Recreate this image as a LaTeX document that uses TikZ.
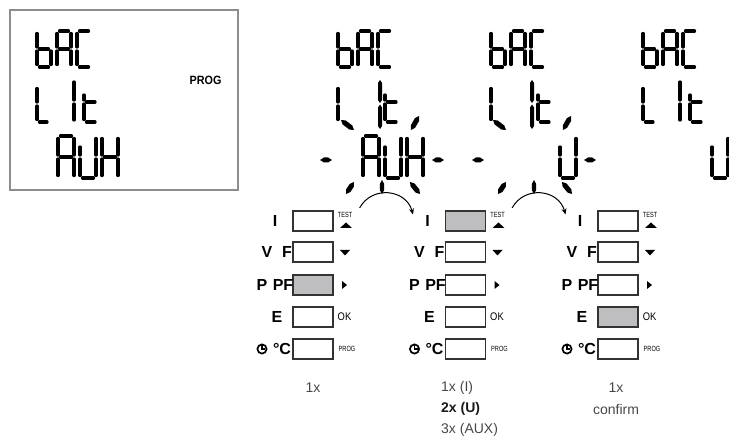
\documentclass[tikz,border=0pt]{standalone}
\usepackage{fontspec}
\setmainfont{Liberation Sans}
\usetikzlibrary{calc,arrows.meta}
\definecolor{shade}{RGB}{190,190,192}
\definecolor{frame}{RGB}{140,140,140}
% pointed stroke: #1 half width, #2 taper, (#3,#4) -- (#5,#6)
\newcommand\segw[6]{%
 \fill (#3,#4) -- ($(#3,#4)!#2pt!(#5,#6)!#1pt!90:(#5,#6)$) -- ($(#5,#6)!#2pt!(#3,#4)!#1pt!-90:(#3,#4)$) -- (#5,#6) -- ($(#5,#6)!#2pt!(#3,#4)!#1pt!90:(#3,#4)$) -- ($(#3,#4)!#2pt!(#5,#6)!#1pt!-90:(#5,#6)$) -- cycle;}
% LCD segment
\newcommand\seg[4]{\draw[line width=3.3pt,line cap=round] (#1,#2) -- (#3,#4);}
\newcommand\rayseg[4]{\segw{2.5}{4}{#1}{#2}{#3}{#4}}
\newcommand\ch[4]{\def\cx{#1}\def\cy{#2}\def\cw{#3}\def\chh{#4}}
\newcommand\SA{\seg{\cx+2.5}{\cy}{\cx+\cw-2.5}{\cy}}
\newcommand\SB{\seg{\cx+\cw}{\cy+2.5}{\cx+\cw}{\cy+\chh/2-2}}
\newcommand\SC{\seg{\cx+\cw}{\cy+\chh/2+2}{\cx+\cw}{\cy+\chh-2.5}}
\newcommand\SD{\seg{\cx+2.5}{\cy+\chh}{\cx+\cw-2.5}{\cy+\chh}}
\newcommand\SE{\seg{\cx}{\cy+\chh/2+2}{\cx}{\cy+\chh-2.5}}
\newcommand\SF{\seg{\cx}{\cy+2.5}{\cx}{\cy+\chh/2-2}}
\newcommand\SG{\seg{\cx+2.5}{\cy+\chh/2}{\cx+\cw-2.5}{\cy+\chh/2}}
\newcommand\Gb{\SF\SE\SG\SC\SD}
\newcommand\GA{\SA\SB\SC\SE\SF\SG}
\newcommand\GC{\SA\SF\SE\SD}
\newcommand\GH{\SB\SC\SE\SF\SG}
\newcommand\GU{\seg{\cx}{\cy+11}{\cx}{\cy+\chh/2-2}\SE\SD\SB\SC}
% top two rows of a display: origin x, origin y, flashing (0/1)
\newcommand\lcdtop[3]{%
 \ch{#1}{#2}{14}{36}\Gb
 \ch{#1+20}{#2}{14}{36}\GA
 \ch{#1+40}{#2}{14}{36}\GC
 \ch{#1}{#2+55}{14}{36}\SF\SE
 \ifnum#3=0
  \seg{#1+2.5}{#2+91}{#1+10}{#2+91}
  \seg{#1+37}{#2+51}{#1+37}{#2+69}
  \seg{#1+37}{#2+73}{#1+37}{#2+89}
 \fi
 \seg{#1+47}{#2+64}{#1+47}{#2+69}
 \seg{#1+47}{#2+73}{#1+47}{#2+88.5}
 \seg{#1+49.5}{#2+71}{#1+58}{#2+71}
 \seg{#1+49.5}{#2+91}{#1+58}{#2+91}}
% flashing rays round centre (#1,#2)
\newcommand\rays[2]{%
 \rayseg{#1-62}{#2+2}{#1-50}{#2+2}
 \rayseg{#1+50}{#2+2}{#1+62}{#2+2}
 \rayseg{#1-41}{#2-38}{#1-28}{#2-28}
 \rayseg{#1+29}{#2-28}{#1+37}{#2-42}
 \segw{2}{3}{#1-2}{#2-78}{#1-2}{#2-55}
 \segw{2}{3}{#1-2}{#2-53.5}{#1-2}{#2-29}
 \rayseg{#1-36}{#2+36}{#1-28}{#2+24}
 \segw{2.2}{4}{#1}{#2+22}{#1}{#2+36}
 \rayseg{#1+28}{#2+24}{#1+38}{#2+36}}
\begin{document}
\begin{tikzpicture}[x=1pt,y=-1pt,
  btn/.style={draw=black!80,line width=1.1pt,minimum width=40pt,minimum height=20pt,inner sep=0pt,outer sep=0pt},
  lbl/.style={font=\bfseries\fontsize{16}{16}\selectfont,inner sep=0pt},
  tiny/.style={font=\fontsize{7.5}{7.5}\selectfont,inner sep=0pt,xscale=0.75},
  txt/.style={font=\fontsize{14}{14}\selectfont,text=black!72,inner sep=0pt},
  arc/.style={line width=1pt,-{Stealth[length=6pt,width=5pt]}}]
\useasboundingbox (0,0) rectangle (729,438);
% left display box
\node[draw=frame,line width=1.3pt,minimum width=228pt,minimum height=180pt,inner sep=0pt] (lcd) at (124,100) {};
\node[font=\bfseries\fontsize{12}{12}\selectfont,xscale=0.9,inner sep=0pt] (prog) at (205.5,80) {PROG};
\lcdtop{37}{31}{0}
\ch{58}{136}{16}{42}\GA
\ch{80}{136}{16}{42}\GU
\ch{102}{136}{16}{42}\GH
% display 1 (AUX flashing)
\lcdtop{338}{31}{1}
\ch{363}{136}{16}{42}\GA
\ch{385}{136}{16}{42}\GU
\ch{407}{136}{16}{42}\GH
\rays{382}{158}
% display 2 (U flashing)
\lcdtop{491}{31}{1}
\ch{560}{136}{16}{42}\GU
\rays{534}{158}
% display 3 (U confirmed)
\lcdtop{643}{31}{0}
\ch{712}{136}{16}{42}\GU
% button panels
\foreach \c/\X/\s in {1/313/3,2/465.5/1,3/618/4}{
  \foreach \r/\Y in {1/221,2/252,3/285,4/317,5/349}{
    \ifnum\r=\s \def\f{shade}\else\def\f{white}\fi
    \node[btn,fill=\f] (b\c\r) at (\X,\Y) {};
  }
  \node[lbl] (I\c) at (\X-38,221) {I};
  \node[lbl] (V\c) at (\X-46,252) {V};
  \node[lbl] (F\c) at (\X-26,252) {F};
  \node[lbl] (P\c) at (\X-51,285) {P};
  \node[lbl] (PF\c) at (\X-30,285) {PF};
  \node[lbl] (E\c) at (\X-36,317) {E};
  \node[lbl] (C\c) at (\X-31,349) {°C};
  \draw[line width=1.7pt] (\X-51,349) circle[radius=4.6];
  \draw[line width=1.3pt] (\X-51,345.5) -- (\X-51,349) -- (\X-48,349);
  \node[tiny] (T\c) at (\X+32,214.5) {TEST};
  \fill (\X+27,228) -- (\X+39,228) -- (\X+33,222.5) -- cycle;
  \fill (\X+27,250) -- (\X+37,250) -- (\X+32,255.5) -- cycle;
  \fill (\X+29,281) -- (\X+29,289) -- (\X+34,285) -- cycle;
  \node[font=\fontsize{11}{11}\selectfont,inner sep=0pt,xscale=0.85] (OK\c) at (\X+31.5,317) {OK};
  \node[tiny] (PR\c) at (\X+34,349) {PROG};
}
% arcs from one state to the next
\foreach \X/\n in {313/1,465.5/2}{
  \coordinate (s\n) at (\X+46.6,207.9);
  \coordinate (e\n) at (\X+100,214.5);
  \draw[arc] (s\n) .. controls (\X+59.3,185.1) and (\X+93.2,189.3) .. (e\n);
}
% counts
\node[txt] (c1) at (313,388) {1x};
\node[txt,anchor=west] (c2a) at (441,388) {1x (I)};
\node[txt,anchor=west,font=\bfseries\fontsize{14}{14}\selectfont,text=black!90] (c2b) at (441,409) {2x (U)};
\node[txt,anchor=west] (c2c) at (441,430) {3x (AUX)};
\node[txt] (c3a) at (616,388) {1x};
\node[txt] (c3b) at (616,409) {confirm};
\end{tikzpicture}
\end{document}
